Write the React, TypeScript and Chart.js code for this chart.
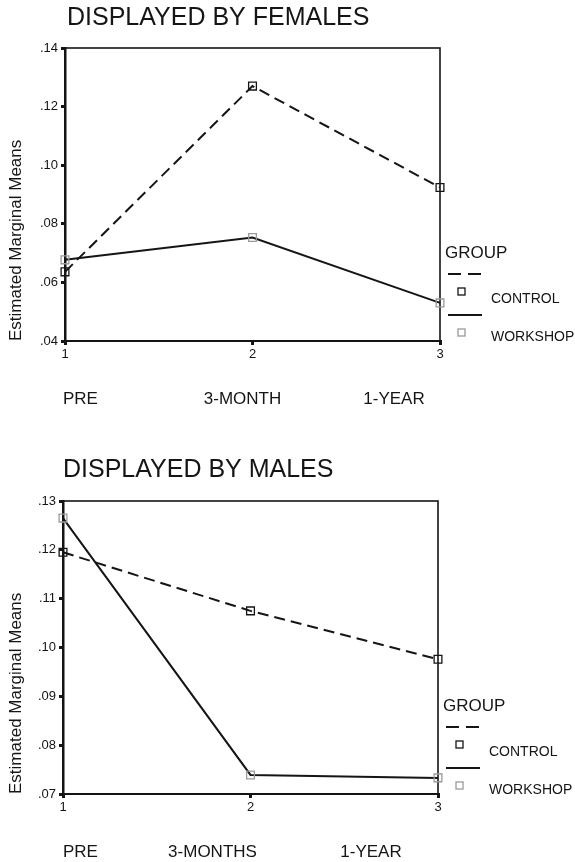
import React, { useEffect, useRef } from 'react';
import { Chart, registerables } from 'chart.js';

Chart.register(...registerables);

// ---- data ----
const X_TICKS = ['1', '2', '3'];
const FEMALE_PHASES = ['PRE', '3-MONTH', '1-YEAR'];
const MALE_PHASES = ['PRE', '3-MONTHS', '1-YEAR'];
const GROUPS = ['CONTROL', 'WORKSHOP'];
const LEGEND_TITLE = 'GROUP';
const Y_TITLE = 'Estimated Marginal Means';

const FEMALE_CONTROL = [0.0636, 0.127, 0.0924];
const FEMALE_WORKSHOP = [0.0677, 0.0753, 0.053];
const MALE_CONTROL = [0.1195, 0.1075, 0.0976];
const MALE_WORKSHOP = [0.1265, 0.0739, 0.0733];

const FEMALE_Y = { min: 0.04, max: 0.14, step: 0.02 };
const MALE_Y = { min: 0.07, max: 0.13, step: 0.01 };

const FONT = '"Liberation Sans", Arial, Helvetica, sans-serif';
const INK = '#151515';
const GREY = '#9a9a9a';

type PanelProps = {
  title: string;
  phases: string[];
  control: number[];
  workshop: number[];
  yr: { min: number; max: number; step: number };
  top: number;
  yWidth: number;
  titleX: number;
  titleY: number;
  phasePos: { dx: number; align: CanvasTextAlign }[];
};

function Panel(p: PanelProps) {
  const ref = useRef<HTMLCanvasElement>(null);
  useEffect(() => {
    if (!ref.current) return;
    const W = 575;
    const H = 431;
    const xAxisH = 20;
    const bottomPad = H - p.top - 293 - xAxisH;

    const decor = {
      id: 'decor',
      beforeDatasetsDraw(chart: any) {
        const { ctx, chartArea: a } = chart;
        ctx.save();
        ctx.strokeStyle = INK;
        ctx.lineWidth = 1.6;
        ctx.strokeRect(a.left, a.top, a.right - a.left, a.bottom - a.top);
        ctx.restore();
      },
      afterDraw(chart: any) {
        const { ctx, chartArea: a } = chart;
        const xs = chart.scales.x;
        ctx.save();
        ctx.fillStyle = INK;
        // title
        ctx.font = `25px ${FONT}`;
        ctx.textAlign = 'left';
        ctx.textBaseline = 'middle';
        ctx.fillText(p.title, p.titleX, p.titleY);
        // phase labels
        ctx.font = `17px ${FONT}`;
        p.phases.forEach((ph, i) => {
          const pos = p.phasePos[i];
          ctx.textAlign = pos.align;
          ctx.fillText(ph, xs.getPixelForValue(i) + pos.dx, a.bottom + 58);
        });
        // legend
        const lx = a.right;
        const b = a.bottom;
        ctx.textAlign = 'left';
        ctx.font = `17px ${FONT}`;
        ctx.fillText(LEGEND_TITLE, lx + 5, b - 88);
        ctx.strokeStyle = INK;
        ctx.lineWidth = 1.8;
        ctx.setLineDash([13, 7]);
        ctx.beginPath();
        ctx.moveTo(lx + 8, b - 67);
        ctx.lineTo(lx + 42, b - 67);
        ctx.stroke();
        ctx.setLineDash([]);
        ctx.beginPath();
        ctx.moveTo(lx + 8, b - 26);
        ctx.lineTo(lx + 42, b - 26);
        ctx.stroke();
        ctx.lineWidth = 1.3;
        ctx.strokeStyle = INK;
        ctx.strokeRect(lx + 18, b - 53, 7, 7);
        ctx.strokeStyle = GREY;
        ctx.strokeRect(lx + 18, b - 12, 7, 7);
        ctx.font = `14px ${FONT}`;
        ctx.fillText(GROUPS[0], lx + 51, b - 42);
        ctx.fillText(GROUPS[1], lx + 51, b - 4);
        ctx.restore();
      },
    };

    const chart = new Chart(ref.current, {
      type: 'line',
      data: {
        labels: X_TICKS,
        datasets: [
          {
            label: GROUPS[0],
            data: p.control,
            borderColor: INK,
            borderWidth: 2,
            borderDash: [11, 6],
            pointStyle: 'rect',
            pointRadius: 5.5,
            pointBorderColor: INK,
            pointBackgroundColor: 'rgba(255,255,255,0)',
            pointBorderWidth: 1.3,
            clip: false as any,
            tension: 0,
          },
          {
            label: GROUPS[1],
            data: p.workshop,
            borderColor: INK,
            borderWidth: 2,
            pointStyle: 'rect',
            pointRadius: 5.5,
            pointBorderColor: GREY,
            pointBackgroundColor: 'rgba(255,255,255,0)',
            pointBorderWidth: 1.3,
            clip: false as any,
            tension: 0,
          },
        ],
      },
      options: {
        animation: false,
        responsive: false,
        layout: { padding: { top: p.top, right: W - p.yWidth - 375, bottom: bottomPad, left: 0 } },
        plugins: { legend: { display: false }, tooltip: { enabled: false }, title: { display: false } },
        scales: {
          x: {
            type: 'category',
            offset: false,
            grid: { drawOnChartArea: false, drawTicks: true, tickLength: 4, lineWidth: 3, color: INK },
            border: { display: true, color: INK, width: 2 },
            ticks: { color: INK, font: { family: FONT, size: 13 }, padding: 2, maxRotation: 0 },
            afterFit: (s: any) => { s.height = xAxisH; },
          },
          y: {
            min: p.yr.min,
            max: p.yr.max,
            grid: { drawOnChartArea: false, drawTicks: true, tickLength: 4, lineWidth: 3, color: INK },
            border: { display: true, color: INK, width: 2.5 },
            ticks: {
              stepSize: p.yr.step,
              color: INK,
              font: { family: FONT, size: 13 },
              padding: 3,
              callback: (v: any) => Number(v).toFixed(2).replace(/^0/, ''),
            },
            title: {
              display: true,
              text: Y_TITLE,
              align: 'start',
              color: INK,
              font: { family: FONT, size: 17 },
              padding: { top: 6, bottom: 0 },
            },
            afterFit: (s: any) => { s.width = p.yWidth; },
          },
        },
      },
      plugins: [decor],
    });
    return () => chart.destroy();
  }, []);
  return <canvas ref={ref} width={575} height={431} style={{ display: 'block' }} />;
}

export default function App() {
  return (
    <div style={{ position: 'absolute', left: 0, top: 0, width: 575, height: 862, background: '#fff' }}>
      <Panel
        title="DISPLAYED BY FEMALES"
        phases={FEMALE_PHASES}
        control={FEMALE_CONTROL}
        workshop={FEMALE_WORKSHOP}
        yr={FEMALE_Y}
        top={48}
        yWidth={65}
        titleX={67}
        titleY={18}
        phasePos={[{ dx: -2, align: 'left' }, { dx: -10, align: 'center' }, { dx: -46, align: 'center' }]}
      />
      <Panel
        title="DISPLAYED BY MALES"
        phases={MALE_PHASES}
        control={MALE_CONTROL}
        workshop={MALE_WORKSHOP}
        yr={MALE_Y}
        top={70}
        yWidth={63}
        titleX={63}
        titleY={39}
        phasePos={[{ dx: 0, align: 'left' }, { dx: -38, align: 'center' }, { dx: -67, align: 'center' }]}
      />
    </div>
  );
}
